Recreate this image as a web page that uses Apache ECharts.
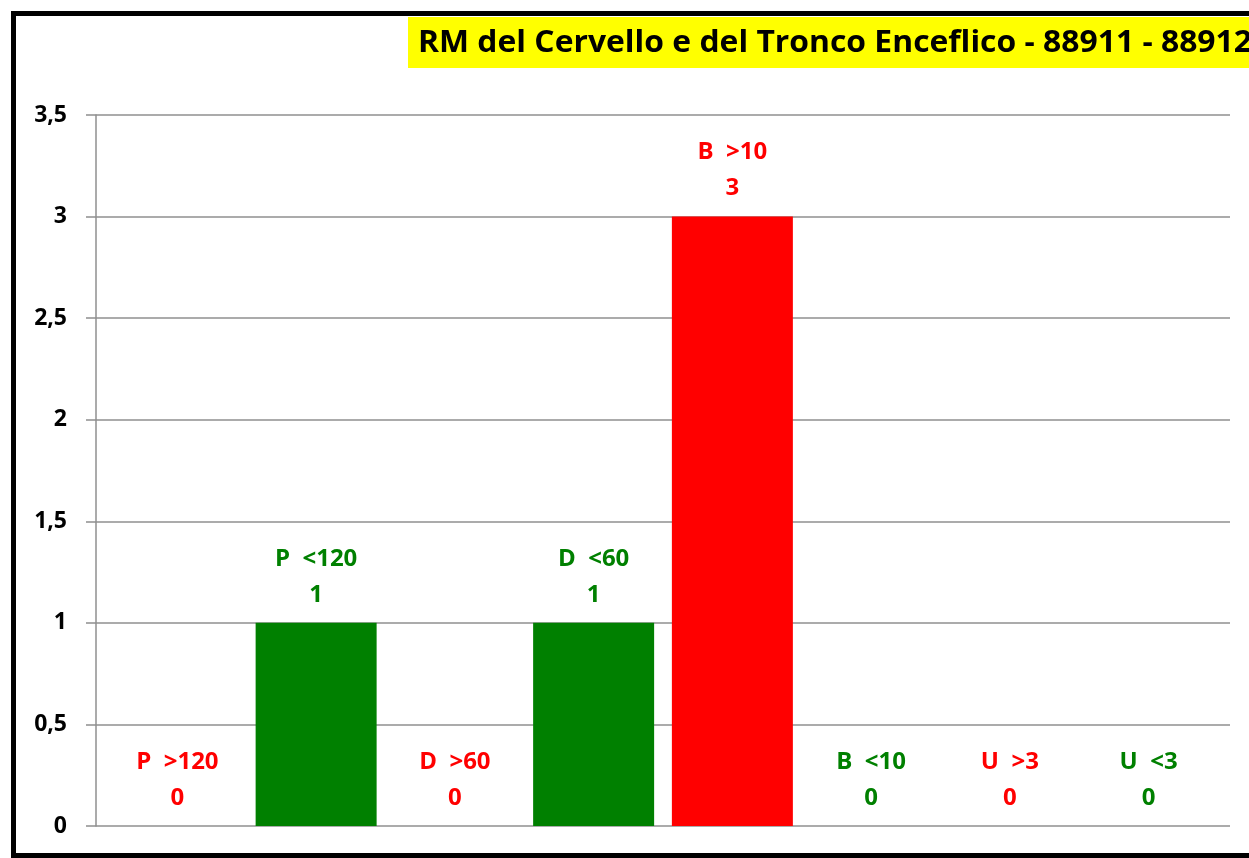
<!DOCTYPE html>
<html>
<head>
<meta charset="utf-8">
<script src="https://cdn.jsdelivr.net/npm/echarts@6/dist/echarts.min.js"></script>
<style>
html,body{margin:0;padding:0;background:#fff;}
#chart{width:1249px;height:858px;}
</style>
</head>
<body>
<div id="chart"></div>
<script>
// ---- data ----
const titleText = 'RM del Cervello e del Tronco Enceflico - 88911 - 88912';
const categories = ['P  >120', 'P  <120', 'D  >60', 'D  <60', 'B  >10', 'B  <10', 'U  >3', 'U  <3'];
const values = [0, 1, 0, 1, 3, 0, 0, 0];
const yMin = 0, yMax = 3.5, yStep = 0.5;

// ---- styling ----
const RED = '#FF0000', GREEN = '#008000';
const FONT = '"Open Sans", "Liberation Sans", sans-serif';
const GRID_COLOR = '#8f8f8f';
function colorFor(cat){ return cat.indexOf('>') >= 0 ? RED : GREEN; }

// measure title to fit the reference width (narrow Calibri-like look)
const cv = document.createElement('canvas').getContext('2d');
cv.font = 'bold 31px "Open Sans"';
const titleW = cv.measureText(titleText).width;
const titleScale = 834 / titleW;

const chart = echarts.init(document.getElementById('chart'), null, {renderer: 'canvas'});

const barData = values.map((v, i) => ({
  value: v,
  itemStyle: {color: colorFor(categories[i])},
  label: {color: colorFor(categories[i])}
}));

chart.setOption({
  animation: false,
  backgroundColor: '#ffffff',
  grid: [
    {left: 96, right: 19, top: 115, bottom: 32},
    {left: 108, right: 31, top: 115, bottom: 32}
  ],
  xAxis: [
    {gridIndex: 0, type: 'value', min: 0, max: 1, show: false},
    {gridIndex: 1, type: 'category', data: categories, show: false}
  ],
  yAxis: [
    {
      gridIndex: 0, type: 'value', min: yMin, max: yMax, interval: yStep,
      axisLine: {show: true, lineStyle: {color: GRID_COLOR, width: 1.5}},
      axisTick: {show: true, length: 10, lineStyle: {color: GRID_COLOR, width: 1.5}},
      splitLine: {show: true, lineStyle: {color: GRID_COLOR, width: 1.5}},
      axisLabel: {
        margin: 29, color: '#000', fontWeight: 'bold', fontSize: 23, fontFamily: FONT,
        formatter: v => String(v).replace('.', ',')
      }
    },
    {gridIndex: 1, type: 'value', min: yMin, max: yMax, interval: yStep, show: false, splitLine: {show: false}}
  ],
  series: [{
    type: 'bar',
    xAxisIndex: 1, yAxisIndex: 1,
    barWidth: 121,
    data: barData,
    label: {
      show: true,
      position: 'top',
      distance: 10,
      fontFamily: FONT,
      fontWeight: 'bold',
      fontSize: 24,
      lineHeight: 36,
      align: 'center',
      formatter: p => categories[p.dataIndex] + '\n' + p.value
    }
  }],
  graphic: [
    {type: 'rect', z: 100, shape: {x: 408, y: 17, width: 850, height: 51}, style: {fill: '#FFFF00'}},
    {type: 'text', z: 101, x: 418, y: 43, scaleX: titleScale, scaleY: 1,
     style: {text: titleText, font: 'bold 31px "Open Sans"', fill: '#000', textAlign: 'left', textVerticalAlign: 'middle', verticalAlign: 'middle'}},
    {type: 'rect', z: 102, shape: {x: 13.5, y: 13.5, width: 1260, height: 842},
     style: {fill: 'none', stroke: '#000', lineWidth: 5}}
  ]
});
</script>
</body>
</html>
